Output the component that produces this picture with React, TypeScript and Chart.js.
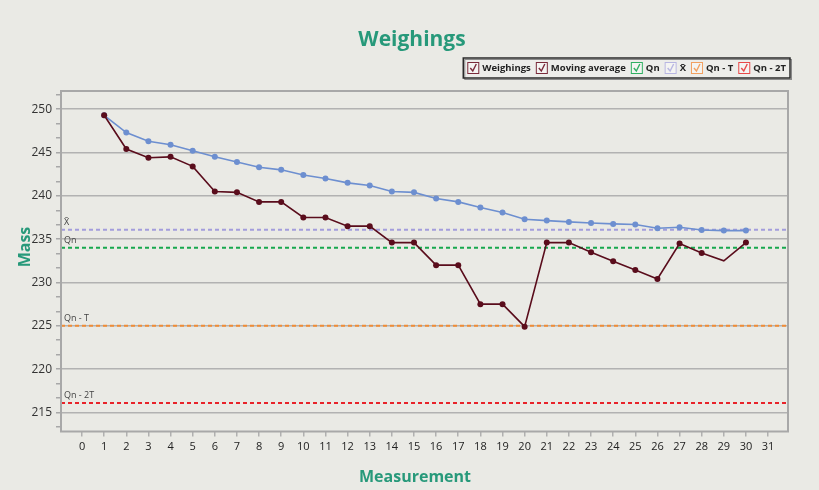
import React, { useEffect, useRef } from 'react';
import { Chart, registerables } from 'chart.js';

Chart.register(...registerables);

// ---- Data ----
const measurements = [1, 2, 3, 4, 5, 6, 7, 8, 9, 10, 11, 12, 13, 14, 15, 16, 17, 18, 19, 20, 21, 22, 23, 24, 25, 26, 27, 28, 29, 30];
const weighings = [249.3, 245.4, 244.4, 244.5, 243.4, 240.5, 240.4, 239.3, 239.3, 237.5, 237.5, 236.5, 236.5, 234.6, 234.6, 232.0, 232.0, 227.5, 227.5, 224.9, 234.6, 234.6, 233.5, 232.45, 231.45, 230.4, 234.5, 233.4, 232.5, 234.6];
const movingAverage = [249.3, 247.3, 246.3, 245.9, 245.2, 244.5, 243.9, 243.3, 243.0, 242.4, 242.0, 241.5, 241.2, 240.5, 240.4, 239.7, 239.3, 238.65, 238.07, 237.3, 237.14, 236.99, 236.87, 236.76, 236.69, 236.26, 236.37, 236.06, 235.99, 235.99];
const weighingMarkerHidden = [29];
const refLabels = ['X\u0304', 'Qn', 'Qn - T', 'Qn - 2T'];
const refValues = [236.1, 234.0, 225.0, 216.1];
const legendLabels = ['Weighings', 'Moving average', 'Qn', 'X\u0304', 'Qn - T', 'Qn - 2T'];
const yMajorTicks = [215, 220, 225, 230, 235, 240, 245, 250];

// ---- Styles ----
const BG = '#eaeae5';
const TEAL = '#27997a';
const MAROON = '#5a0d1c';
const BLUE = '#6d8fd0';
const refColors = ['#a39ddc', '#17a84e', '#f08c36', '#e8232a'];
const legendColors = ['#7a2a3a', '#7a2a3a', '#2fb062', '#b8b6e2', '#f2a060', '#e84848'];
const X_MIN = -0.95;
const X_MAX = 31.9;
const Y_MIN = 212.8;
const Y_MAX = 252.1;
const FONT = '"Open Sans", "DejaVu Sans", sans-serif';

const isMajor = (v: number) => yMajorTicks.some((m) => Math.abs(m - v) < 1e-6);

const decorPlugin = {
  id: 'decor',
  beforeDraw(chart: any) {
    const { ctx, width, height } = chart;
    ctx.save();
    ctx.fillStyle = BG;
    ctx.fillRect(0, 0, width, height);
    ctx.restore();
  },
  afterDatasetsDraw(chart: any) {
    const { ctx, chartArea: a, scales } = chart;
    ctx.save();
    ctx.fillStyle = '#444';
    ctx.font = `9px ${FONT}`;
    ctx.textAlign = 'left';
    ctx.textBaseline = 'alphabetic';
    refValues.forEach((v, i) => {
      const y = scales.y.getPixelForValue(v);
      ctx.fillText(refLabels[i], a.left + 3, y - 5);
    });
    ctx.restore();
  },
  afterDraw(chart: any) {
    const { ctx, chartArea: a } = chart;
    ctx.save();
    // plot border
    ctx.strokeStyle = '#a8a8a8';
    ctx.lineWidth = 2;
    ctx.strokeRect(a.left, a.top, a.right - a.left, a.bottom - a.top);

    // title
    ctx.fillStyle = TEAL;
    ctx.textAlign = 'center';
    ctx.textBaseline = 'middle';
    ctx.font = `bold 21px ${FONT}`;
    ctx.fillText('Weighings', 412, 40);
    // x title
    ctx.font = `bold 16px ${FONT}`;
    ctx.fillText('Measurement', 415, 477);
    // y title
    ctx.save();
    ctx.translate(25, 247);
    ctx.rotate(-Math.PI / 2);
    ctx.fillText('Mass', 0, 0);
    ctx.restore();

    // legend
    ctx.font = `bold 9.5px ${FONT}`;
    const box = 12;
    const gapText = 3;
    const gapItem = 5;
    const widths = legendLabels.map((l) => ctx.measureText(l).width);
    const total = widths.reduce((s, w) => s + box + gapText + w + gapItem, 0) - gapItem;
    const right = 790;
    const padX = 4;
    const left = right - total - padX * 2;
    const top = 58;
    const h = 20;
    ctx.fillStyle = '#ededea';
    ctx.fillRect(left, top, right - left, h);
    ctx.strokeStyle = '#8a8a8a';
    ctx.lineWidth = 1;
    ctx.strokeRect(left + 1.5, top + 1.5, right - left, h);
    ctx.strokeStyle = '#2a2a2a';
    ctx.lineWidth = 1.5;
    ctx.strokeRect(left, top, right - left, h);
    let x = left + padX;
    const cy = top + h / 2;
    legendLabels.forEach((label, i) => {
      const c = legendColors[i];
      ctx.fillStyle = '#f4f4f2';
      ctx.fillRect(x, cy - box / 2, box, box);
      ctx.strokeStyle = c;
      ctx.lineWidth = 1;
      ctx.strokeRect(x + 0.5, cy - box / 2 + 0.5, box - 1, box - 1);
      ctx.lineWidth = 1.4;
      ctx.beginPath();
      ctx.moveTo(x + 3, cy);
      ctx.lineTo(x + 5.5, cy + 3);
      ctx.lineTo(x + 9, cy - 4);
      ctx.stroke();
      x += box + gapText;
      ctx.fillStyle = '#222';
      ctx.textAlign = 'left';
      ctx.textBaseline = 'middle';
      ctx.fillText(label, x, cy + 0.5);
      x += widths[i] + gapItem;
    });
    ctx.restore();
  },
};

export default function App() {
  const canvasRef = useRef<HTMLCanvasElement | null>(null);

  useEffect(() => {
    document.body.style.margin = '0';
    const canvas = canvasRef.current;
    if (!canvas) return;

    const refDatasets = refValues.map((v, i) => ({
      label: refLabels[i],
      data: [
        { x: X_MIN, y: v },
        { x: X_MAX, y: v },
      ],
      borderColor: refColors[i],
      borderWidth: 2,
      borderDash: [4, 3],
      pointRadius: 0,
      fill: false,
    }));

    const chart = new Chart(canvas, {
      type: 'line',
      data: {
        datasets: [
          {
            label: 'Weighings',
            data: measurements.map((m, i) => ({ x: m, y: weighings[i] })),
            borderColor: MAROON,
            backgroundColor: MAROON,
            borderWidth: 1.6,
            pointRadius: measurements.map((m) => (weighingMarkerHidden.includes(m) ? 0 : 3)),
            pointBorderWidth: 0,
            pointBackgroundColor: MAROON,
            fill: false,
          },
          {
            label: 'Moving average',
            data: measurements.map((m, i) => ({ x: m, y: movingAverage[i] })),
            borderColor: BLUE,
            backgroundColor: BLUE,
            borderWidth: 1.6,
            pointRadius: 3,
            pointBorderWidth: 0,
            pointBackgroundColor: BLUE,
            fill: false,
          },
          ...refDatasets,
        ],
      },
      options: {
        responsive: false,
        animation: false,
        layout: { padding: { top: 91, right: 31, left: 0, bottom: 0 } },
        plugins: {
          legend: { display: false },
          title: { display: false },
          tooltip: { enabled: false },
        },
        scales: {
          x: {
            type: 'linear',
            min: X_MIN,
            max: X_MAX,
            border: { display: false },
            grid: {
              drawOnChartArea: false,
              tickLength: 5,
              tickColor: '#b0b0b0',
              lineWidth: 1.5,
            },
            ticks: {
              stepSize: 1,
              includeBounds: false,
              padding: 4,
              color: '#222',
              font: { family: FONT, size: 11 },
              maxRotation: 0,
              autoSkip: false,
              callback: (v: any) => String(v),
            },
            afterFit: (scale: any) => {
              scale.height = 58.5;
            },
          },
          y: {
            type: 'linear',
            min: Y_MIN,
            max: Y_MAX,
            border: { display: false },
            grid: {
              color: (c: any) => (isMajor(c.tick.value) ? '#b2b2b2' : 'rgba(0,0,0,0)'),
              tickColor: '#a8a8a8',
              lineWidth: 1.5,
              tickLength: 5,
            },
            ticks: {
              stepSize: 5 / 3,
              includeBounds: false,
              padding: 4,
              color: '#333',
              font: { family: FONT, size: 12 },
              autoSkip: false,
              callback: (v: any) => {
                const m = yMajorTicks.find((t) => Math.abs(t - v) < 1e-6);
                return m === undefined ? '' : String(m);
              },
            },
            afterFit: (scale: any) => {
              scale.width = 61;
            },
          },
        },
      },
      plugins: [decorPlugin],
    } as any);

    return () => {
      chart.destroy();
    };
  }, []);

  return (
    <div style={{ width: 819, height: 490 }}>
      <canvas ref={canvasRef} width={819} height={490} />
    </div>
  );
}
